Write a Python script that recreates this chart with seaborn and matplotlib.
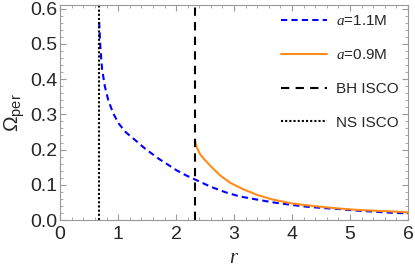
import numpy as np
import pandas as pd
import matplotlib
matplotlib.use("Agg")
import matplotlib.pyplot as plt
import seaborn as sns
from matplotlib.ticker import MultipleLocator

# values
r_ns = [0.672, 0.695, 0.724, 0.77, 0.828, 0.914, 1.01, 1.126, 1.30, 1.47, 1.70, 1.87,
        2.01, 2.17, 2.33, 2.59, 2.85, 3.10, 3.4, 3.68, 3.95, 4.25, 4.55, 4.83, 5.1, 5.40,
        5.7, 6.0]
om_ns = [0.562, 0.485, 0.427, 0.380, 0.341, 0.303, 0.274, 0.250, 0.226, 0.202, 0.174, 0.156,
         0.141, 0.127, 0.115, 0.095, 0.079, 0.067, 0.058, 0.050, 0.044, 0.038, 0.034, 0.031,
         0.027, 0.024, 0.021, 0.019]
r_bh = [2.33, 2.36, 2.42, 2.5, 2.59, 2.75, 2.93, 3.15, 3.39, 3.65, 3.97, 4.25, 4.54,
        4.8, 5.11, 5.5, 5.92, 6.0]
om_bh = [0.223, 0.205, 0.185, 0.170, 0.154, 0.128, 0.106, 0.088, 0.072, 0.059, 0.048, 0.042,
         0.037, 0.033, 0.029, 0.026, 0.023, 0.022]
bh_isco = 2.32
ns_isco = 0.667

sns.set_style("ticks")
plt.rcParams['font.family'] = ['Liberation Sans', 'DejaVu Sans']
plt.rcParams['mathtext.fontset'] = 'custom'
plt.rcParams['mathtext.it'] = 'Liberation Serif:italic'
plt.rcParams['mathtext.rm'] = 'Liberation Sans'

fig = plt.figure(figsize=(4.15, 2.8), dpi=100)
ax = fig.add_axes([0.145, 0.214, 0.838, 0.768])

sns.lineplot(x=r_ns, y=om_ns, ax=ax, color="blue", lw=1.5, label="$a$=1.1M")
ax.lines[-1].set_dashes([3, 2])
sns.lineplot(x=r_bh, y=om_bh, ax=ax, color="#ff8c1a", lw=1.5, label="$a$=0.9M")
ax.axvline(bh_isco, color="black", lw=1.5, dashes=[4, 3], label="BH ISCO")
ax.axvline(ns_isco, color="black", lw=1.5, dashes=[1, 1], label="NS ISCO")

ax.set_xlim(0, 6)
ax.set_ylim(0, 0.61)
ax.xaxis.set_major_locator(MultipleLocator(1))
ax.xaxis.set_minor_locator(MultipleLocator(0.2))
ax.yaxis.set_major_locator(MultipleLocator(0.1))
ax.yaxis.set_minor_locator(MultipleLocator(0.02))
ax.set_yticks([0, 0.1, 0.2, 0.3, 0.4, 0.5, 0.6])
ax.set_yticklabels(["0.0", "0.1", "0.2", "0.3", "0.4", "0.5", "0.6"])
ax.tick_params(which="both", direction="in", top=True, right=True, color="#999999",
               labelsize=14)
ax.tick_params(axis="x", pad=4)
ax.tick_params(axis="y", pad=2)
ax.tick_params(which="major", length=4)
ax.tick_params(which="minor", length=2)
for s in ax.spines.values():
    s.set_color("#999999")

ax.set_xlabel("$r$", fontsize=15, labelpad=4)
ax.set_ylabel(r"$\Omega_{\rm per}$", fontsize=15, labelpad=2)

ax.legend(loc="upper right", frameon=False, fontsize=11, labelspacing=1.3,
          handlelength=3.0, handletextpad=0.6, borderaxespad=0.2)

fig.savefig("out.png", dpi=100)
